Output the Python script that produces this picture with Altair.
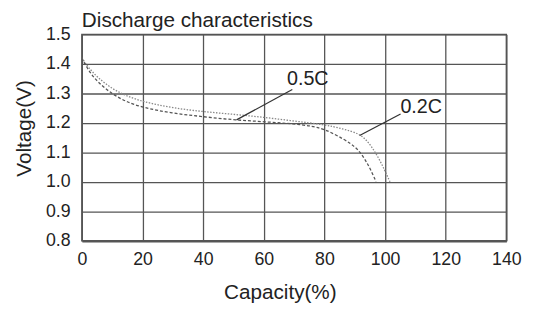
import altair as alt
import pandas as pd

# 0.2C discharge curve
cap_02 = [0, 2, 5, 10, 15, 20, 30, 40, 50, 60, 70, 80, 86, 91.6, 94, 96.4, 98.8, 100.8, 101.8]
volt_02 = [1.42, 1.39, 1.355, 1.315, 1.29, 1.272, 1.25, 1.238, 1.229, 1.219, 1.206, 1.194, 1.18, 1.163, 1.14, 1.107, 1.063, 1.018, 0.996]

# 0.5C discharge curve
cap_05 = [0, 2, 5, 10, 15, 20, 30, 40, 50, 60, 70.5, 75, 80, 86.7, 90, 92.1, 94, 95.3, 97]
volt_05 = [1.42, 1.38, 1.34, 1.297, 1.27, 1.252, 1.232, 1.221, 1.21, 1.204, 1.196, 1.19, 1.18, 1.143, 1.12, 1.096, 1.065, 1.04, 1.001]

# annotations
ann_labels = ["0.5C", "0.2C"]
ann_x = [74.5, 111.9]
ann_y = [1.349, 1.255]
ptr_x1 = [51.0, 91.6]
ptr_y1 = [1.210, 1.157]
ptr_x2 = [69.4, 105.1]
ptr_y2 = [1.313, 1.230]

x_ticks = [0, 20, 40, 60, 80, 100, 120, 140]
y_ticks = [0.8, 0.9, 1.0, 1.1, 1.2, 1.3, 1.4, 1.5]

FONT = "Liberation Sans"

curves = pd.concat([
    pd.DataFrame({"cap": cap_02, "volt": volt_02, "rate": "0.2C"}),
    pd.DataFrame({"cap": cap_05, "volt": volt_05, "rate": "0.5C"}),
])
ann = pd.DataFrame({"label": ann_labels, "tx": ann_x, "ty": ann_y,
                    "x1": ptr_x1, "y1": ptr_y1, "x2": ptr_x2, "y2": ptr_y2})

xscale = alt.Scale(domain=[0, 140], nice=False)
yscale = alt.Scale(domain=[0.8, 1.5], nice=False, zero=False)

xaxis = alt.Axis(values=x_ticks, tickCount=20, grid=True, ticks=False, domain=False,
                 labelFontSize=18, labelFont=FONT, labelColor="#222", labelPadding=10,
                 labelFlush=False, labelOverlap=False,
                 gridColor="#555", gridWidth=1.3, gridOpacity=1,
                 title="Capacity(%)", titleFont=FONT, titleFontSize=21, titleFontWeight="normal",
                 titleColor="#222", titleX=201, titleY=42, titleBaseline="top")
yaxis = alt.Axis(values=y_ticks, tickCount=20, format=".1f", grid=True, ticks=False, domain=False,
                 labelFontSize=18, labelFont=FONT, labelColor="#222", labelPadding=12,
                 labelFlush=False, labelOverlap=False,
                 gridColor="#555", gridWidth=1.3, gridOpacity=1,
                 title="Voltage(V)", titleFont=FONT, titleFontSize=21, titleFontWeight="normal",
                 titleColor="#222", titleX=-52, titleY=95, titleAngle=270,
                 titleBaseline="alphabetic", titleAlign="center")

lines = alt.Chart(curves).mark_line(strokeWidth=1.3, interpolate="basis").encode(
    x=alt.X("cap:Q", scale=xscale, axis=xaxis),
    y=alt.Y("volt:Q", scale=yscale, axis=yaxis),
    detail="rate:N",
    color=alt.Color("rate:N", scale=alt.Scale(domain=["0.2C", "0.5C"], range=["#888", "#555"]), legend=None),
    strokeDash=alt.StrokeDash("rate:N", scale=alt.Scale(domain=["0.2C", "0.5C"], range=[[1.5, 1.5], [3, 2]]), legend=None),
    order="cap:Q",
)

pointers = alt.Chart(ann).mark_rule(color="#333", strokeWidth=1.3).encode(
    x="x1:Q", y="y1:Q", x2="x2:Q", y2="y2:Q",
)

labels = alt.Chart(ann).mark_text(font=FONT, fontSize=20, color="#222",
                                  align="center", baseline="middle").encode(
    x="tx:Q", y="ty:Q", text="label:N",
)

chart = alt.layer(lines, pointers, labels).properties(
    width=431, height=209.5,
    autosize=alt.AutoSizeParams(type="none"),
    padding={"left": 75, "top": 24.5, "right": 25, "bottom": 69},
    background="white",
    title=alt.TitleParams("Discharge characteristics", anchor="start", frame="group",
                          fontSize=21, font=FONT, fontWeight="normal", color="#222",
                          offset=5, dy=10),
).configure_view(stroke="#555", strokeWidth=1.5)

chart.save("out.html", embed_options={"renderer": "svg", "actions": False})
